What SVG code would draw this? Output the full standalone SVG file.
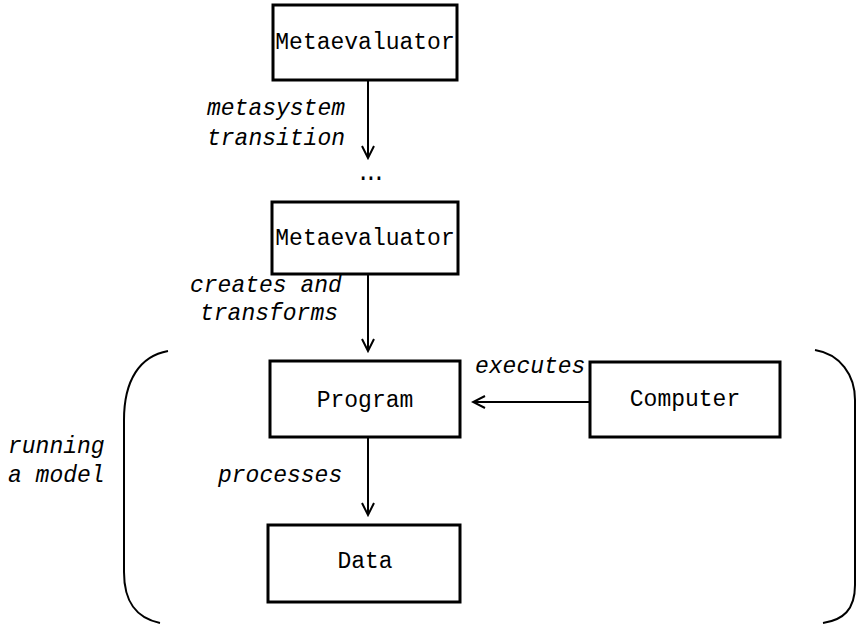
<svg xmlns="http://www.w3.org/2000/svg" width="856" height="624" viewBox="0 0 856 624">
<style>
.box{fill:#fff;stroke:#000;stroke-width:3}
.t{font-family:"Liberation Mono",monospace;font-size:23px;fill:#000}
.i{font-family:"Liberation Mono",monospace;font-size:23px;font-style:italic;fill:#000}
.c{stroke:#000;stroke-width:2;fill:none}
</style>
<defs>
<marker id="a" markerWidth="16" markerHeight="16" refX="14" refY="8" orient="auto" markerUnits="userSpaceOnUse">
<path d="M2,2 L14,8 L2,14" fill="none" stroke="#000" stroke-width="2"/>
</marker>
</defs>
<rect width="856" height="624" fill="#fff"/>
<g id="connectors">
<line class="c" x1="368" y1="81" x2="368" y2="158" marker-end="url(#a)"/>
<line class="c" x1="368" y1="274" x2="368" y2="351" marker-end="url(#a)"/>
<line class="c" x1="589" y1="402" x2="473" y2="402" marker-end="url(#a)"/>
<line class="c" x1="368" y1="438" x2="368" y2="515" marker-end="url(#a)"/>
<path class="c" d="M168,351 C140,356 124,380 124,420 L124,572 C124,602 136,618 160,623"/>
<path class="c" d="M815,350 C840,354 855,375 855,400 L855,585 C855,610 843,620 823,623"/>
<text class="i" x="207" y="115">metasystem</text>
<text class="i" x="207" y="145">transition</text>
<text class="t" x="368" y="180" text-anchor="middle" letter-spacing="-6">...</text>
<text class="i" x="190" y="292">creates and</text>
<text class="i" x="200" y="320">transforms</text>
<text class="i" x="475" y="373">executes</text>
<text class="i" x="218" y="482">processes</text>
<text class="i" x="8" y="453">running</text>
<text class="i" x="8" y="482">a model</text>
</g>
<g id="meta1">
<rect class="box" x="273" y="5" width="184" height="75"/>
<text class="t" x="365" y="49" text-anchor="middle">Metaevaluator</text>
</g>
<g id="meta2">
<rect class="box" x="272" y="202" width="186" height="72"/>
<text class="t" x="365" y="245" text-anchor="middle">Metaevaluator</text>
</g>
<g id="program">
<rect class="box" x="270" y="361" width="190" height="76"/>
<text class="t" x="365" y="407" text-anchor="middle">Program</text>
</g>
<g id="computer">
<rect class="box" x="590" y="362" width="190" height="75"/>
<text class="t" x="685" y="406" text-anchor="middle">Computer</text>
</g>
<g id="data">
<rect class="box" x="268" y="525" width="192" height="77"/>
<text class="t" x="365" y="568" text-anchor="middle">Data</text>
</g>
</svg>
